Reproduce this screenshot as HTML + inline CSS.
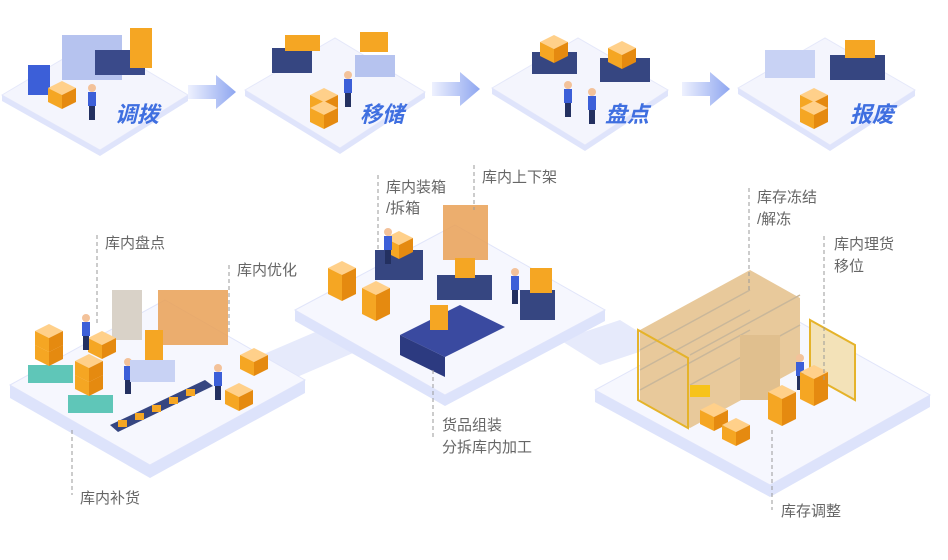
<!DOCTYPE html>
<html><head><meta charset="utf-8"><style>
body{margin:0;background:#fff;width:948px;height:560px;overflow:hidden}
svg{display:block}
.l{font-family:"Liberation Sans","Noto Sans CJK SC",sans-serif;font-size:15px;fill:#666}
.b{font-family:"Liberation Sans","Noto Sans CJK SC",sans-serif;font-size:22px;font-weight:bold;fill:#3f6fe0;font-style:italic}
.d{stroke:#999;stroke-dasharray:4 3;stroke-width:1}
</style></head><body>
<svg width="948" height="560" viewBox="0 0 948 560">
<defs>
<linearGradient id="ar" x1="0" x2="1"><stop offset="0" stop-color="#eef1fe"/><stop offset="1" stop-color="#8ea6f0"/></linearGradient>
<g id="box"><path d="M0 0l14-7 14 7-14 7z" fill="#ffd08a"/><path d="M0 0v14l14 7V7z" fill="#f5a623"/><path d="M28 0v14l-14 7V7z" fill="#e58a10"/></g>
<g id="man"><circle cx="0" cy="0" r="4" fill="#f3c29a"/><rect x="-4" y="4" width="8" height="14" fill="#3c5fd8"/><rect x="-3" y="18" width="6" height="14" fill="#233060"/></g>
</defs>
<!-- top platforms -->
<g fill="#f4f5fd" stroke="#e5e8fa">
<path d="M2 95L95 40 188 95 100 150Z"/>
<path d="M245 90L335 38 425 92 340 148Z"/>
<path d="M492 88L578 38 668 90 585 145Z"/>
<path d="M738 88L825 38 915 90 830 145Z"/>
</g>
<g fill="#dfe4fb"><path d="M2 95L100 150 100 156 2 101Z"/><path d="M188 95L100 150 100 156 188 101Z"/>
<path d="M245 90L340 148 340 154 245 96Z"/><path d="M425 92L340 148 340 154 425 98Z"/>
<path d="M492 88L585 145 585 151 492 94Z"/><path d="M668 90L585 145 585 151 668 96Z"/>
<path d="M738 88L830 145 830 151 738 94Z"/><path d="M915 90L830 145 830 151 915 96Z"/></g>
<!-- arrows -->
<path d="M188 85h28v-10l20 17-20 17v-10h-28z" fill="url(#ar)"/>
<path d="M432 82h28v-10l20 17-20 17v-10h-28z" fill="url(#ar)"/>
<path d="M682 82h28v-10l20 17-20 17v-10h-28z" fill="url(#ar)"/>
<!-- top machines -->
<rect x="62" y="35" width="60" height="45" fill="#b6c3ef"/><rect x="95" y="50" width="50" height="25" fill="#3a4a8a"/>
<rect x="130" y="28" width="22" height="40" fill="#f5a623"/>
<rect x="28" y="65" width="22" height="30" fill="#3c5fd8"/>
<use href="#box" x="48" y="88"/><use href="#man" x="92" y="88"/>
<rect x="272" y="48" width="40" height="25" fill="#364681"/><rect x="285" y="35" width="35" height="16" fill="#f5a623"/>
<rect x="355" y="55" width="40" height="22" fill="#b6c3ef"/><rect x="360" y="32" width="28" height="20" fill="#f5a623"/>
<use href="#box" x="310" y="95"/><use href="#box" x="310" y="108"/><use href="#man" x="348" y="75"/>
<rect x="532" y="52" width="45" height="22" fill="#364681"/><rect x="600" y="58" width="50" height="24" fill="#364681"/>
<use href="#box" x="540" y="42"/><use href="#box" x="608" y="48"/><use href="#man" x="568" y="85"/><use href="#man" x="592" y="92"/>
<rect x="765" y="50" width="50" height="28" fill="#c8d2f4"/><rect x="830" y="55" width="55" height="25" fill="#364681"/><rect x="845" y="40" width="30" height="18" fill="#f5a623"/>
<use href="#box" x="800" y="95"/><use href="#box" x="800" y="108"/>
<text class="b" x="115" y="122">调拨</text><text class="b" x="360" y="122">移储</text>
<text class="b" x="605" y="122">盘点</text><text class="b" x="850" y="122">报废</text>
<!-- bottom connectors -->
<path d="M250 360L320 330 360 350 290 380Z" fill="#e6eafb"/>
<path d="M560 340L620 320 660 345 600 365Z" fill="#e6eafb"/>
<!-- bottom platforms -->
<g fill="#f6f7fe" stroke="#e1e5fa">
<path d="M10 385L165 300 305 380 150 465Z"/>
<path d="M295 310L455 225 605 310 445 395Z"/>
<path d="M595 390L760 300 930 395 770 485Z"/>
</g>
<g fill="#dde3fb">
<path d="M10 385L150 465 150 478 10 398Z"/><path d="M305 380L150 465 150 478 305 393Z"/>
<path d="M295 310L445 395 445 406 295 321Z"/><path d="M605 310L445 395 445 406 605 321Z"/>
<path d="M595 390L770 485 770 497 595 402Z"/><path d="M930 395L770 485 770 497 930 407Z"/>
</g>
<!-- left scene -->
<rect x="28" y="365" width="45" height="18" fill="#5fc6b8"/><rect x="68" y="395" width="45" height="18" fill="#5fc6b8"/>
<use href="#box" x="35" y="345"/><use href="#box" x="35" y="331"/><use href="#box" x="75" y="375"/><use href="#box" x="75" y="361"/>
<rect x="112" y="290" width="30" height="50" fill="#d9d2c8"/><rect x="158" y="290" width="70" height="55" fill="#e9a055" opacity=".85"/>
<use href="#box" x="88" y="338"/><use href="#man" x="86" y="318"/><use href="#man" x="128" y="362"/><use href="#man" x="218" y="368"/>
<rect x="130" y="360" width="45" height="22" fill="#c8d2f4"/><rect x="145" y="330" width="18" height="30" fill="#f5a623"/>
<use href="#box" x="240" y="355"/><use href="#box" x="225" y="390"/>
<path d="M110 425l95-45 8 6-95 46z" fill="#364681"/>
<g fill="#f5a623"><rect x="118" y="420" width="9" height="7"/><rect x="135" y="413" width="9" height="7"/><rect x="152" y="405" width="9" height="7"/><rect x="169" y="397" width="9" height="7"/><rect x="186" y="389" width="9" height="7"/></g>
<!-- center scene -->
<use href="#box" x="328" y="280"/><use href="#box" x="328" y="268"/><use href="#box" x="362" y="300"/><use href="#box" x="362" y="288"/>
<rect x="375" y="250" width="48" height="30" fill="#364681"/><use href="#box" x="385" y="238"/><use href="#man" x="388" y="232"/>
<rect x="443" y="205" width="45" height="55" fill="#e9a055" opacity=".85"/>
<rect x="437" y="275" width="55" height="25" fill="#364681"/><rect x="455" y="258" width="20" height="20" fill="#f5a623"/>
<rect x="520" y="290" width="35" height="30" fill="#364681"/><rect x="530" y="268" width="22" height="25" fill="#f5a623"/>
<use href="#man" x="515" y="272"/>
<path d="M400 335l60-30 45 22-60 30z" fill="#3a4aa0"/><path d="M400 335v20l45 22v-20z" fill="#2c3a80"/>
<rect x="430" y="305" width="18" height="25" fill="#f5a623"/>
<!-- right scene -->
<path d="M640 330l110-60 50 28v70l-110 60-50-28z" fill="#e8c99b"/>
<g stroke="#c9b79a" stroke-width="1.5" fill="none"><path d="M640 350l110-60M640 370l110-60M640 390l110-60M690 355l110-60M690 385l110-60"/></g>
<rect x="740" y="335" width="40" height="65" fill="#e0bf8e"/>
<path d="M638 330v70l50 28v-70z" fill="none" stroke="#e5b32a" stroke-width="2"/>
<path d="M810 320l45 25v55l-45-25z" fill="#f3e2b8" stroke="#e5b32a" stroke-width="2"/>
<use href="#man" x="800" y="358"/><use href="#box" x="800" y="385"/><use href="#box" x="800" y="372"/>
<use href="#box" x="768" y="405"/><use href="#box" x="768" y="392"/>
<use href="#box" x="700" y="410"/><use href="#box" x="722" y="425"/>
<rect x="690" y="385" width="20" height="12" fill="#f7c31a"/>
<!-- dashed lines & labels -->
<line class="d" x1="97" y1="235" x2="97" y2="325"/><text class="l" x="105" y="248">库内盘点</text>
<line class="d" x1="229" y1="265" x2="229" y2="335"/><text class="l" x="237" y="275">库内优化</text>
<line class="d" x1="72" y1="430" x2="72" y2="495"/><text class="l" x="80" y="503">库内补货</text>
<line class="d" x1="378" y1="175" x2="378" y2="250"/><text class="l" x="386" y="192">库内装箱</text><text class="l" x="386" y="213">/拆箱</text>
<line class="d" x1="474" y1="165" x2="474" y2="210"/><text class="l" x="482" y="182">库内上下架</text>
<line class="d" x1="433" y1="370" x2="433" y2="440"/><text class="l" x="442" y="430">货品组装</text><text class="l" x="442" y="452">分拆库内加工</text>
<line class="d" x1="749" y1="188" x2="749" y2="290"/><text class="l" x="757" y="202">库存冻结</text><text class="l" x="757" y="224">/解冻</text>
<line class="d" x1="824" y1="236" x2="824" y2="380"/><text class="l" x="834" y="249">库内理货</text><text class="l" x="834" y="271">移位</text>
<line class="d" x1="772" y1="430" x2="772" y2="510"/><text class="l" x="781" y="516">库存调整</text>
</svg>
</body></html>
